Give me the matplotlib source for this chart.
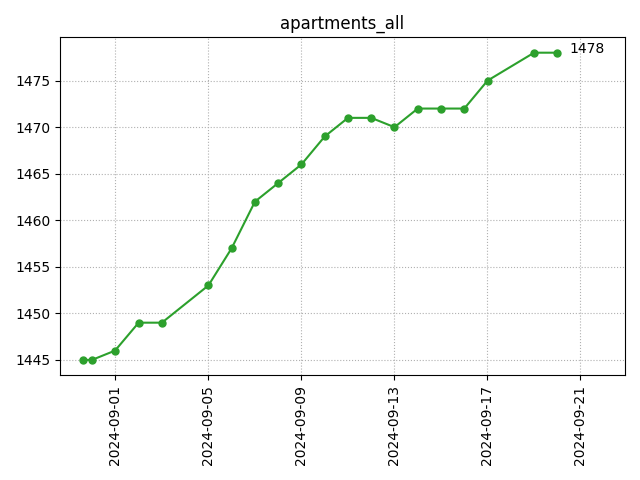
import matplotlib
matplotlib.use("Agg")
import matplotlib.pyplot as plt
import matplotlib.dates as mdates
import pandas as pd

dates = ["2024-08-30 15:40", "2024-08-31 00:30", "2024-09-01 00:20", "2024-09-02 00:40",
         "2024-09-03 00:40", "2024-09-05 00:40", "2024-09-06 00:40", "2024-09-07 00:40",
         "2024-09-08 00:40", "2024-09-09 00:40", "2024-09-10 00:40", "2024-09-11 00:40",
         "2024-09-12 00:40", "2024-09-13 00:40", "2024-09-14 00:40", "2024-09-15 00:40",
         "2024-09-16 00:40", "2024-09-17 00:40", "2024-09-19 00:40", "2024-09-20 00:40"]
values = [1445, 1445, 1446, 1449, 1449, 1453, 1457, 1462, 1464, 1466, 1469, 1471,
          1471, 1470, 1472, 1472, 1472, 1475, 1478, 1478]

x = pd.to_datetime(dates)

fig, ax = plt.subplots(figsize=(6.4, 4.8), dpi=100)
ax.plot(x, values, marker="o", color="#2ca02c", markersize=5)
ax.annotate(str(values[-1]), (x[-1], values[-1]), xytext=(9, 0), textcoords="offset points")
ax.set_title("apartments_all")
ax.grid(True, linestyle=":", color="#b0b0b0")
ax.xaxis.set_major_locator(mdates.DayLocator(bymonthday=[1, 5, 9, 13, 17, 21]))
ax.xaxis.set_major_formatter(mdates.DateFormatter("%Y-%m-%d"))
ax.set_xlim(pd.Timestamp("2024-08-29 15:30"), pd.Timestamp("2024-09-22 22:30"))
plt.setp(ax.get_xticklabels(), rotation=90)
fig.tight_layout()
fig.savefig("out.png")
